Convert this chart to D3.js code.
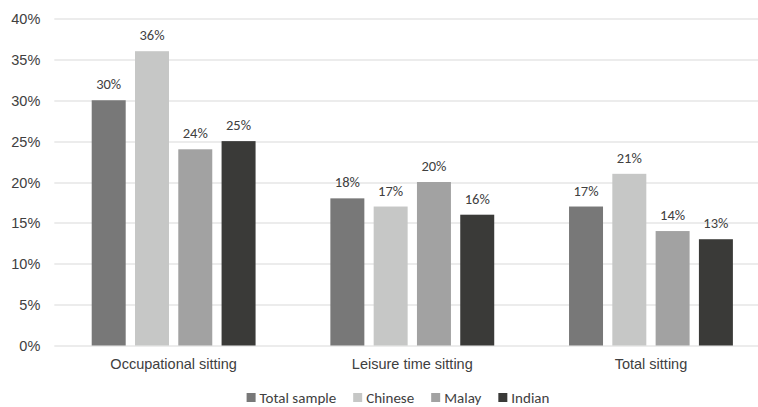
<!DOCTYPE html>
<html>
<head>
<meta charset="utf-8">
<script src="https://cdnjs.cloudflare.com/ajax/libs/d3/7.8.5/d3.min.js"></script>
<style>
	body { margin: 0; background: #fff; }
	svg { display: block; font-family: Carlito, Lato, "Open Sans", sans-serif; }
	.axis text { fill: #404040; font-size: 14.5px; }
	.axis path, .axis line { display: none; }
	.grid line { stroke: #d9d9d9; stroke-width: 1; }
	.label { fill: #404040; font-size: 14.5px; }
	.legend text { fill: #404040; font-size: 15px; }
</style>
</head>
<body>
<div id="chart"></div>
<script>
//Data
var categories = ["Occupational sitting", "Leisure time sitting", "Total sitting"];
var seriesNames = ["Total sample", "Chinese", "Malay", "Indian"];
var totalSample = [30, 18, 17];
var chinese = [36, 17, 21];
var malay = [24, 20, 14];
var indian = [25, 16, 13];
var yTicks = [0, 5, 10, 15, 20, 25, 30, 35, 40];
var colors = ["#787878", "#c6c7c6", "#a2a2a2", "#3a3a38"];

var seriesValues = [totalSample, chinese, malay, indian];

//SVG setup
var W = 758, H = 407;
var margin = { top: 18.5, left: 54.3 };
var plotW = 716, plotH = 327;

var svg = d3.select("#chart")
	.append("svg")
	.attr("width", W)
	.attr("height", H);

var g = svg.append("g")
	.attr("transform", "translate(" + margin.left + "," + margin.top + ")");

//Scales
var x0 = d3.scaleBand()
	.domain(categories)
	.range([0, plotW])
	.padding(0);

var x1 = d3.scaleBand()
	.domain(seriesNames)
	.range([0, x0.bandwidth()])
	.paddingInner(0.215)
	.paddingOuter(0.864);

var y = d3.scaleLinear()
	.domain([0, 40])
	.range([plotH, 0]);

//Gridlines
g.append("g")
	.attr("class", "grid")
	.selectAll("line")
	.data(yTicks)
	.enter()
	.append("line")
	.attr("x1", 0)
	.attr("x2", plotW)
	.attr("y1", function(d) { return Math.round(y(d)) + 0.5; })
	.attr("y2", function(d) { return Math.round(y(d)) + 0.5; });

//Y axis
g.append("g")
	.attr("class", "y axis")
	.attr("transform", "translate(-14,0)")
	.call(d3.axisLeft(y).tickValues(yTicks).tickSize(0).tickPadding(0)
		.tickFormat(function(d) { return d + "%"; }))
	.selectAll("text")
	.attr("dy", "0.35em");

//X axis
g.append("g")
	.attr("class", "x axis")
	.attr("transform", "translate(0," + plotH + ")")
	.call(d3.axisBottom(x0).tickSize(0).tickPadding(0))
	.selectAll("text")
	.attr("dy", null)
	.attr("y", 23);

//Bars
seriesNames.forEach(function(name, si) {
	var s = g.selectAll(".bar.s" + si)
		.data(seriesValues[si])
		.enter()
		.append("g")
		.attr("class", "bar s" + si)
		.attr("transform", function(d, i) {
			return "translate(" + (x0(categories[i]) + x1(name)) + ",0)";
		});
	s.append("rect")
		.attr("y", function(d) { return y(d); })
		.attr("width", x1.bandwidth())
		.attr("height", function(d) { return plotH - y(d); })
		.attr("fill", colors[si]);
	s.append("text")
		.attr("class", "label")
		.attr("x", x1.bandwidth() / 2)
		.attr("y", function(d) { return y(d) - 11; })
		.attr("text-anchor", "middle")
		.text(function(d) { return d + "%"; });
});

//Legend
var legend = svg.append("g").attr("class", "legend");
var lx = 0;
seriesNames.forEach(function(name, i) {
	var item = legend.append("g").attr("transform", "translate(" + lx + ",0)");
	item.append("rect")
		.attr("x", 0)
		.attr("y", 393)
		.attr("width", 9)
		.attr("height", 9)
		.attr("fill", colors[i]);
	var t = item.append("text")
		.attr("x", 13)
		.attr("y", 403)
		.text(name);
	lx += 13 + t.node().getComputedTextLength() + 17;
});
lx -= 17;
legend.attr("transform", "translate(" + (398 - lx / 2) + ",0)");
</script>
</body>
</html>
